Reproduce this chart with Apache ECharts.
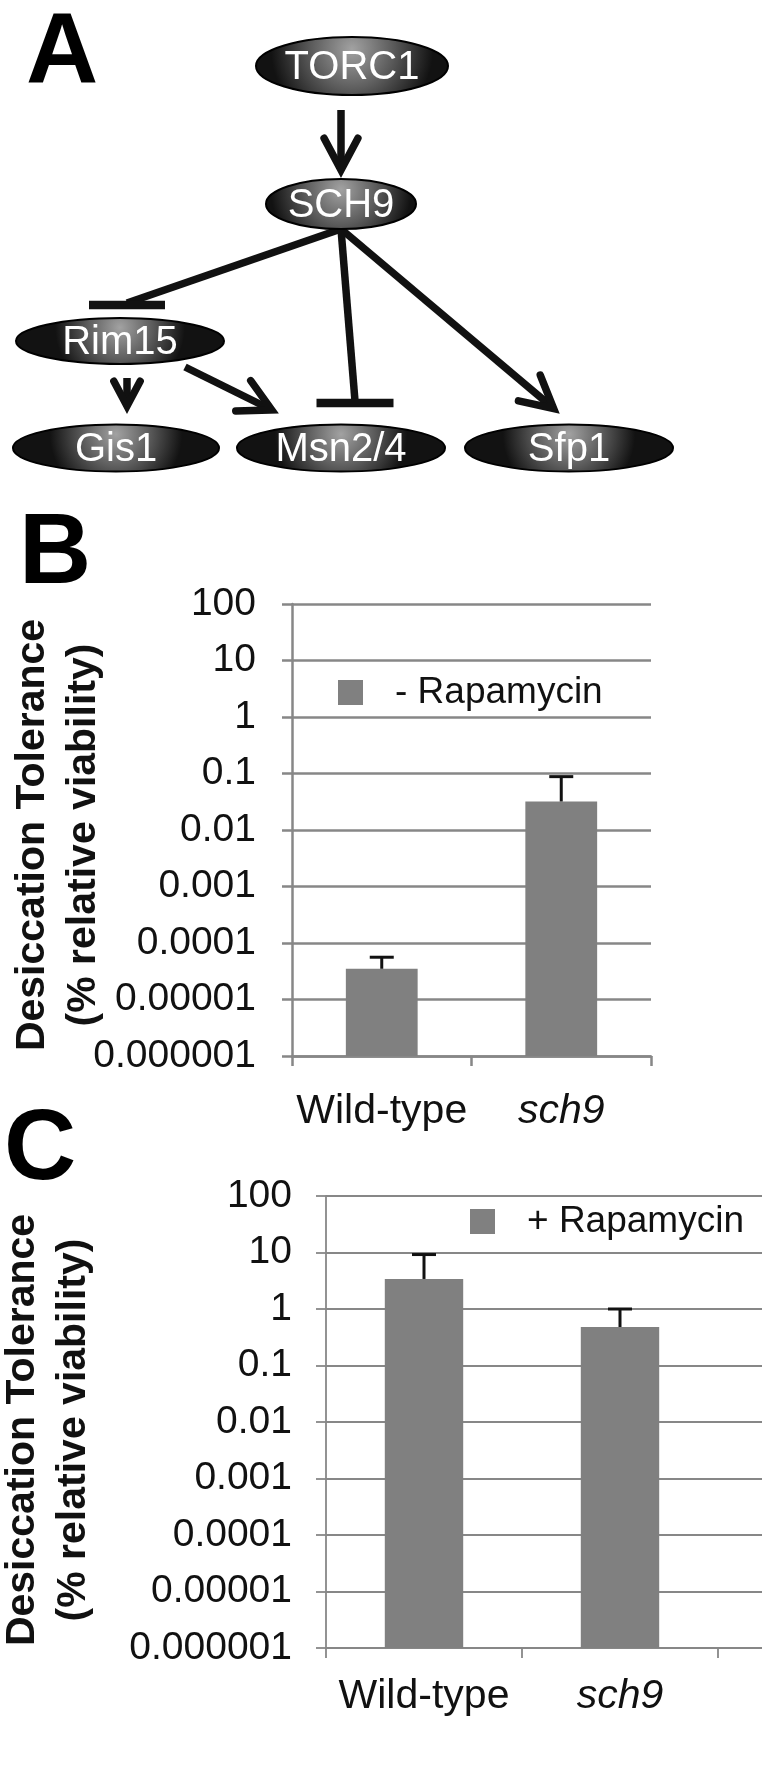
<!DOCTYPE html>
<html>
<head>
<meta charset="utf-8">
<title>Sch9 desiccation tolerance</title>
<script src="https://cdn.jsdelivr.net/npm/echarts@6/dist/echarts.min.js"></script>
<style>
  html, body { margin: 0; padding: 0; background: #fff; }
  #main { width: 780px; height: 1775px; }
</style>
</head>
<body>
<div id="main"></div>
<script>
// ---- data ----
const strains = ['Wild-type', 'sch9'];
const minusRapaMean = [3.5e-5, 0.032];   // B, - Rapamycin
const minusRapaUpper = [5.6e-5, 0.088];  // top of error bar
const plusRapaMean = [3.4, 0.48];        // C, + Rapamycin
const plusRapaUpper = [9.2, 1.0];
const decadeLabels = ['0.000001', '0.00001', '0.0001', '0.001', '0.01', '0.1', '1', '10', '100'];

// pathway in panel A
const nodes = ['TORC1', 'SCH9', 'Rim15', 'Gis1', 'Msn2/4', 'Sfp1'];
const links = [
  ['TORC1', 'SCH9', 'activates'],
  ['SCH9', 'Rim15', 'inhibits'],
  ['SCH9', 'Msn2/4', 'inhibits'],
  ['SCH9', 'Sfp1', 'activates'],
  ['Rim15', 'Gis1', 'activates'],
  ['Rim15', 'Msn2/4', 'activates']
];

// ---- layout of the diagram (positions only) ----
const nodeBox = {
  'TORC1': [352, 66, 96, 29],
  'SCH9': [341, 204, 75, 25],
  'Rim15': [120, 341, 104, 23],
  'Gis1': [116, 448, 103, 23.5],
  'Msn2/4': [341, 448, 104, 23.5],
  'Sfp1': [569, 448, 104, 23.5]
};
const edgeGeom = {
  'TORC1>SCH9': { from: [341, 110], to: [341, 177], size: 36 },
  'SCH9>Rim15': { from: [341, 229], to: [127, 305], size: 76 },
  'SCH9>Msn2/4': { from: [341, 229], to: [355, 403], size: 77 },
  'SCH9>Sfp1': { from: [341, 229], to: [559, 413], size: 36 },
  'Rim15>Gis1': { from: [127, 378], to: [127, 413], size: 28 },
  'Rim15>Msn2/4': { from: [185, 367], to: [278, 413], size: 36 }
};

const FONT = '"Liberation Sans", Arial, Helvetica, sans-serif';
const INK = '#111';
const LINE_W = 7.5;

const chart = echarts.init(document.getElementById('main'));

// arrows and T-bars
function edgeElements(link) {
  const g = edgeGeom[link[0] + '>' + link[1]];
  const [x1, y1] = g.from;
  const [x2, y2] = g.to;
  const out = [];
  if (link[2] === 'inhibits') {
    out.push({ type: 'line', shape: { x1, y1, x2, y2: y2 - 2 }, style: { stroke: INK, lineWidth: LINE_W } });
    out.push({ type: 'line', shape: { x1: x2 - g.size / 2, y1: y2, x2: x2 + g.size / 2, y2 }, style: { stroke: INK, lineWidth: 8.5 } });
  } else {
    const len = Math.hypot(x2 - x1, y2 - y1);
    const ux = (x2 - x1) / len, uy = (y2 - y1) / len;
    // pull the apex back so the mitred tip lands on the target point
    const ax = x2 - ux * 7, ay = y2 - uy * 7;
    const a = 28 * Math.PI / 180;
    const wing = s => {
      const c = Math.cos(s * a), sn = Math.sin(s * a);
      const bx = -ux, by = -uy;
      return [ax + g.size * (bx * c - by * sn), ay + g.size * (bx * sn + by * c)];
    };
    out.push({ type: 'line', shape: { x1, y1, x2: ax - ux * 2, y2: ay - uy * 2 }, style: { stroke: INK, lineWidth: LINE_W } });
    out.push({ type: 'polyline', shape: { points: [wing(1), [ax, ay], wing(-1)] },
      style: { stroke: INK, lineWidth: LINE_W, fill: null, lineJoin: 'miter', miterLimit: 10, lineCap: 'round' } });
  }
  return out;
}

function nodeElements(name) {
  const [cx, cy, rx, ry] = nodeBox[name];
  return [
    {
      type: 'ellipse', shape: { cx, cy, rx, ry },
      style: {
        // r is relative to the shorter side of the box
        fill: { type: 'radial', x: 0.5, y: 0.22, r: 1.35, colorStops: [
          { offset: 0, color: '#a2a2a2' }, { offset: 0.5, color: '#5c5c5c' }, { offset: 1, color: '#121212' }] },
        stroke: '#000', lineWidth: 2
      }
    },
    {
      type: 'text', x: cx, y: cy + 2,
      style: { text: name, fill: '#fff', fontSize: 40, fontFamily: FONT, align: 'center', verticalAlign: 'middle' }
    }
  ];
}

function panelLetter(t, x, y) {
  return { type: 'text', x, y, style: { text: t, fill: '#000', fontSize: 100, fontWeight: 'bold', fontFamily: FONT, align: 'center', verticalAlign: 'middle' } };
}

function yTitle(x, y) {
  return {
    type: 'text', x, y, rotation: Math.PI / 2,
    style: {
      text: 'Desiccation Tolerance\n(% relative viability)', fill: INK, fontSize: 41, fontWeight: 'bold',
      fontFamily: FONT, lineHeight: 51, align: 'center', verticalAlign: 'middle'
    }
  };
}

function errorBars(xi, yi, means, uppers, lw) {
  return {
    type: 'custom', xAxisIndex: xi, yAxisIndex: yi, z: 5, silent: true,
    data: means.map((m, i) => [i, m, uppers[i]]),
    encode: { x: 0, y: [1, 2] },
    renderItem: (params, api) => {
      const base = api.coord([api.value(0), api.value(1)]);
      const top = api.coord([api.value(0), api.value(2)]);
      const style = { stroke: INK, lineWidth: lw };
      return {
        type: 'group', children: [
          { type: 'line', shape: { x1: base[0], y1: base[1], x2: top[0], y2: top[1] }, style },
          { type: 'line', shape: { x1: top[0] - 12, y1: top[1], x2: top[0] + 12, y2: top[1] }, style }
        ]
      };
    }
  };
}

function valueAxis(gi, lw, margin) {
  return {
    type: 'log', logBase: 10, gridIndex: gi, min: 1e-6, max: 100, interval: 1, splitNumber: 8,
    startValue: 1e-6,
    axisLine: { show: true, lineStyle: { color: '#878787', width: lw } },
    axisTick: { show: true, length: 10, inside: false, lineStyle: { color: '#878787', width: lw } },
    splitLine: { show: true, lineStyle: { color: '#878787', width: lw } },
    minorTick: { show: false }, minorSplitLine: { show: false },
    axisLabel: { margin, color: INK, fontSize: 39, fontFamily: FONT, formatter: v => decadeLabels[Math.round(Math.log10(v)) + 6] }
  };
}

function categoryAxis(gi, cats, lw, margin) {
  return {
    type: 'category', gridIndex: gi, data: cats, boundaryGap: true,
    axisLine: { show: true, lineStyle: { color: '#878787', width: lw } },
    axisTick: { show: true, length: 10, alignWithLabel: false, interval: 0, lineStyle: { color: '#878787', width: lw } },
    axisLabel: {
      interval: 0, margin, color: INK, fontSize: 41, fontFamily: FONT,
      formatter: v => v === 'sch9' ? '{i|' + v + '}' : v,
      rich: { i: { fontStyle: 'italic', fontSize: 41, fontFamily: FONT, color: INK } }
    },
    splitLine: { show: false }
  };
}

function legendFor(name, left, top) {
  return {
    data: [name], left, top, orient: 'horizontal', padding: 0,
    icon: 'rect', itemWidth: 25, itemHeight: 25,
    formatter: n => '{t|' + n + '}',
    textStyle: { rich: { t: { fontSize: 37, fontFamily: FONT, color: INK, lineHeight: 37, padding: [0, 0, 0, 27] } } },
    selectedMode: false
  };
}

const graphicEls = [];
links.forEach(l => graphicEls.push(...edgeElements(l)));
nodes.forEach(n => graphicEls.push(...nodeElements(n)));
graphicEls.push(panelLetter('A', 62, 55));
graphicEls.push(panelLetter('B', 55, 555));
graphicEls.push(panelLetter('C', 40, 1151));
graphicEls.push(yTitle(58, 835));
graphicEls.push(yTitle(48, 1430));
// panel C is cropped at the right edge in the original figure
graphicEls.push({ type: 'rect', z: 100, shape: { x: 762, y: 1150, width: 30, height: 560 }, style: { fill: '#fff' } });

chart.setOption({
  backgroundColor: '#fff',
  animation: false,
  textStyle: { fontFamily: FONT },
  grid: [
    { left: 292, top: 604, width: 359, height: 452, containLabel: false, outerBoundsMode: 'none' },
    { left: 326, top: 1196, right: -134, height: 452, containLabel: false, outerBoundsMode: 'none' }
  ],
  xAxis: [
    categoryAxis(0, strains, 2.5, 35),
    categoryAxis(1, strains.concat(['']), 1.8, 28)
  ],
  yAxis: [
    valueAxis(0, 2.5, 36),
    valueAxis(1, 1.8, 34)
  ],
  legend: [
    legendFor('- Rapamycin', 338, 674),
    legendFor('+ Rapamycin', 470, 1203)
  ],
  series: [
    { name: '- Rapamycin', type: 'bar', xAxisIndex: 0, yAxisIndex: 0, barWidth: '40%', data: minusRapaMean, itemStyle: { color: '#808080' } },
    errorBars(0, 0, minusRapaMean, minusRapaUpper, 3),
    { name: '+ Rapamycin', type: 'bar', xAxisIndex: 1, yAxisIndex: 1, barWidth: '40%', data: plusRapaMean, itemStyle: { color: '#808080' } },
    errorBars(1, 1, plusRapaMean, plusRapaUpper, 3)
  ],
  graphic: { elements: graphicEls }
});
</script>
</body>
</html>
